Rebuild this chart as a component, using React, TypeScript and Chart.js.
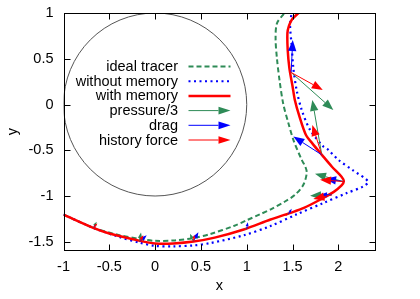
import React, { useEffect, useRef } from "react";
import { Chart, registerables } from "chart.js";

Chart.register(...registerables);

// Trajectories (data coordinates)
const idealX = [-1.0, -0.674, -0.4, -0.163, 0.0, 0.217, 0.42, 0.603, 0.866, 1.0, 1.145, 1.273, 1.418, 1.527, 1.618, 1.655, 1.64, 1.6, 1.509, 1.455, 1.4, 1.36, 1.33, 1.315, 1.33, 1.412];
const idealY = [-1.203, -1.348, -1.425, -1.47, -1.49, -1.485, -1.46, -1.415, -1.325, -1.265, -1.2, -1.14, -1.06, -0.987, -0.878, -0.75, -0.68, -0.605, -0.386, -0.204, 0.0, 0.25, 0.5, 0.72, 0.887, 1.0];

const noMemX = [-1.0, -0.674, -0.4, -0.165, 0.0, 0.2, 0.42, 0.6, 0.963, 1.254, 1.546, 1.836, 2.092, 2.27, 2.325, 2.16, 2.0, 1.891, 1.836, 1.691, 1.6, 1.546, 1.509, 1.49, 1.473, 1.49];
const noMemY = [-1.203, -1.348, -1.445, -1.51, -1.545, -1.55, -1.54, -1.515, -1.43, -1.33, -1.2, -1.077, -0.968, -0.896, -0.842, -0.72, -0.605, -0.496, -0.459, -0.277, -0.059, 0.15, 0.396, 0.651, 0.869, 1.0];

const memX = [-1.0, -0.674, -0.5, -0.163, 0.0, 0.2, 0.42, 0.65, 0.967, 1.26, 1.478, 1.624, 1.81, 1.95, 2.035, 2.06, 2.035, 1.93, 1.82, 1.72, 1.645, 1.575, 1.525, 1.5, 1.465, 1.447, 1.444, 1.459, 1.492, 1.565];
const memY = [-1.203, -1.348, -1.41, -1.49, -1.518, -1.518, -1.498, -1.455, -1.366, -1.257, -1.184, -1.13, -1.035, -0.955, -0.885, -0.84, -0.79, -0.68, -0.55, -0.43, -0.33, -0.13, 0.05, 0.2, 0.4, 0.6, 0.78, 0.854, 0.927, 1.0];

// Force arrows: base points and vector components
const arrowBaseX = [-0.675, -0.172, 0.417, 1.0, 1.454, 1.928, 2.055, 1.819, 1.485];
const arrowBaseY = [-1.347, -1.5, -1.495, -1.36, -1.198, -0.987, -0.842, -0.55, 0.35];
const pressureDX = [0.037, 0.018, -0.036, -0.025, -0.014, -0.237, -0.31, -0.103, 0.46];
const pressureDY = [0.065, 0.101, 0.083, 0.01, 0.008, -0.011, 0.084, 0.6, -0.409];
const dragDX = [0.03, 0.08, 0.055, 0.011, 0.037, -0.128, -0.2, -0.31, 0.017];
const dragDY = [0.037, 0.072, 0.098, 0.072, 0.058, 0.0, 0.032, 0.2, 0.355];
const historyDX = [0.044, 0.043, 0.011, -0.02, -0.036, -0.201, -0.255, -0.103, 0.345];
const historyDY = [0.047, 0.072, 0.072, -0.006, -0.017, -0.047, 0.019, 0.327, -0.191];

const xTicks = [-1, -0.5, 0, 0.5, 1, 1.5, 2];
const yTicks = [-1.5, -1, -0.5, 0, 0.5, 1];

const legendLabels = ["ideal tracer", "without memory", "with memory", "pressure/3", "drag", "history force"];

const GREEN = "#2e8b57";
const BLUE = "#0000ff";
const RED = "#ff0000";
const FONT = "'Liberation Sans', Arial, sans-serif";

function drawArrow(ctx: CanvasRenderingContext2D, x0: number, y0: number, x1: number, y1: number, color: string, maxHead: number, widthRatio: number) {
  const dx = x1 - x0, dy = y1 - y0;
  const len = Math.hypot(dx, dy);
  if (len < 0.5) return;
  const ux = dx / len, uy = dy / len;
  const hl = Math.min(maxHead, len * 0.6);
  const hw = hl * widthRatio;
  const bx = x1 - ux * hl, by = y1 - uy * hl;
  ctx.strokeStyle = color;
  ctx.lineWidth = 1;
  ctx.setLineDash([]);
  ctx.beginPath();
  ctx.moveTo(x0, y0);
  ctx.lineTo(bx, by);
  ctx.stroke();
  ctx.fillStyle = color;
  ctx.beginPath();
  ctx.moveTo(x1, y1);
  ctx.lineTo(bx - uy * hw, by + ux * hw);
  ctx.lineTo(bx + uy * hw, by - ux * hw);
  ctx.closePath();
  ctx.fill();
}

const framePlugin = {
  id: "frame",
  beforeDatasetsDraw(chart: any) {
    const { ctx, chartArea, scales } = chart;
    const xs = scales.x, ys = scales.y;
    const cx = xs.getPixelForValue(0), cy = ys.getPixelForValue(0);
    const rx = xs.getPixelForValue(1) - cx;
    const ry = cy - ys.getPixelForValue(1);
    ctx.save();
    ctx.beginPath();
    ctx.rect(chartArea.left, chartArea.top, chartArea.right - chartArea.left, chartArea.bottom - chartArea.top);
    ctx.clip();
    ctx.strokeStyle = "#555555";
    ctx.lineWidth = 1;
    ctx.beginPath();
    ctx.ellipse(cx, cy, rx, ry, 0, 0, Math.PI * 2);
    ctx.stroke();
    ctx.restore();
  },
  afterDatasetsDraw(chart: any) {
    const { ctx, chartArea, scales } = chart;
    const xs = scales.x, ys = scales.y;
    ctx.save();
    // arrows
    const sets: [number[], number[], string][] = [
      [pressureDX, pressureDY, GREEN],
      [dragDX, dragDY, BLUE],
      [historyDX, historyDY, RED],
    ];
    for (const [dxs, dys, col] of sets) {
      for (let i = 0; i < arrowBaseX.length; i++) {
        const x0 = xs.getPixelForValue(arrowBaseX[i]);
        const y0 = ys.getPixelForValue(arrowBaseY[i]);
        const x1 = xs.getPixelForValue(arrowBaseX[i] + dxs[i]);
        const y1 = ys.getPixelForValue(arrowBaseY[i] + dys[i]);
        drawArrow(ctx, x0, y0, x1, y1, col, 11, 0.38);
      }
    }
    // legend
    const textRight = chartArea.left + 114.5;
    const sx0 = chartArea.left + 125;
    const sx1 = chartArea.left + 167;
    const row0 = chartArea.top + 53.5;
    const dy = 14.7;
    ctx.font = `14.5px ${FONT}`;
    ctx.textAlign = "right";
    ctx.textBaseline = "middle";
    legendLabels.forEach((t, i) => {
      const y = row0 + i * dy;
      ctx.fillStyle = "#000";
      ctx.fillText(t, textRight, y + 0.5);
      if (i < 3) {
        ctx.beginPath();
        ctx.moveTo(sx0, y);
        ctx.lineTo(sx1, y);
        if (i === 0) { ctx.strokeStyle = GREEN; ctx.lineWidth = 2; ctx.setLineDash([5, 3]); }
        if (i === 1) { ctx.strokeStyle = BLUE; ctx.lineWidth = 2; ctx.setLineDash([2, 3.5]); }
        if (i === 2) { ctx.strokeStyle = RED; ctx.lineWidth = 2.5; ctx.setLineDash([]); }
        ctx.stroke();
        ctx.setLineDash([]);
      } else {
        const col = i === 3 ? GREEN : i === 4 ? BLUE : RED;
        drawArrow(ctx, sx0, y, sx1, y, col, 12, 0.32);
      }
    });
    // border
    ctx.strokeStyle = "#000";
    ctx.lineWidth = 1;
    ctx.setLineDash([]);
    const L = Math.round(chartArea.left) + 0.5, R = Math.round(chartArea.right) + 0.5;
    const T = Math.round(chartArea.top) + 0.5, B = Math.round(chartArea.bottom) + 0.5;
    ctx.strokeRect(L, T, R - L, B - T);
    const tl = 6;
    ctx.beginPath();
    for (const v of xTicks) {
      const px = Math.round(xs.getPixelForValue(v)) + 0.5;
      ctx.moveTo(px, B); ctx.lineTo(px, B - tl);
      ctx.moveTo(px, T); ctx.lineTo(px, T + tl);
    }
    for (const v of yTicks) {
      const py = Math.round(ys.getPixelForValue(v)) + 0.5;
      ctx.moveTo(L, py); ctx.lineTo(L + tl, py);
      ctx.moveTo(R, py); ctx.lineTo(R - tl, py);
    }
    ctx.stroke();
    ctx.restore();
  },
};

function pts(xs: number[], ys: number[]) {
  return xs.map((x, i) => ({ x, y: ys[i] }));
}

export default function App() {
  const ref = useRef<HTMLCanvasElement | null>(null);
  useEffect(() => {
    document.body.style.margin = "0";
    const canvas = ref.current;
    if (!canvas) return;
    const font = { family: FONT, size: 14.5 };
    const chart = new Chart(canvas, {
      type: "scatter",
      data: {
        datasets: [
          { label: "ideal tracer", data: pts(idealX, idealY), showLine: true, borderColor: GREEN, backgroundColor: GREEN, borderWidth: 2, borderDash: [5, 3], pointRadius: 0, tension: 0.3, order: 3, fill: false },
          { label: "without memory", data: pts(noMemX, noMemY), showLine: true, borderColor: BLUE, backgroundColor: BLUE, borderWidth: 2.2, borderDash: [2, 3.5], pointRadius: 0, tension: 0.3, order: 2, fill: false },
          { label: "with memory", data: pts(memX, memY), showLine: true, borderColor: RED, backgroundColor: RED, borderWidth: 2.5, pointRadius: 0, tension: 0.3, order: 1, fill: false },
        ],
      } as any,
      options: {
        animation: false,
        responsive: false,
        devicePixelRatio: 1,
        layout: { padding: { top: 13, right: 45, left: 0, bottom: 0 } },
        plugins: { legend: { display: false }, tooltip: { enabled: false } },
        scales: {
          x: {
            type: "linear",
            min: -1,
            max: 2.4,
            afterFit: (s: any) => { s.height = 49; s.paddingLeft = 0; s.paddingRight = 0; },
            afterBuildTicks: (s: any) => { s.ticks = xTicks.map((v) => ({ value: v })); },
            grid: { display: false, drawTicks: false },
            border: { display: false },
            ticks: { padding: 8, color: "#000", font, autoSkip: false, maxRotation: 0, callback: (v: any) => String(v) },
            title: { display: true, text: "x", color: "#000", font, padding: { top: 4, bottom: 4 } },
          },
          y: {
            type: "linear",
            min: -1.59,
            max: 1,
            afterFit: (s: any) => { s.width = 63.5; s.paddingTop = 0; s.paddingBottom = 0; },
            afterBuildTicks: (s: any) => { s.ticks = yTicks.map((v) => ({ value: v })); },
            grid: { display: false, drawTicks: false },
            border: { display: false },
            ticks: { padding: 10, color: "#000", font, autoSkip: false, callback: (v: any) => String(v) },
            title: { display: true, text: "y", color: "#000", font, padding: { top: 4, bottom: 4 } },
          },
        },
      } as any,
      plugins: [framePlugin],
    });
    return () => chart.destroy();
  }, []);
  return (
    <div style={{ width: 420, height: 299, background: "#fff" }}>
      <canvas ref={ref} width={420} height={299} style={{ display: "block" }} />
    </div>
  );
}
